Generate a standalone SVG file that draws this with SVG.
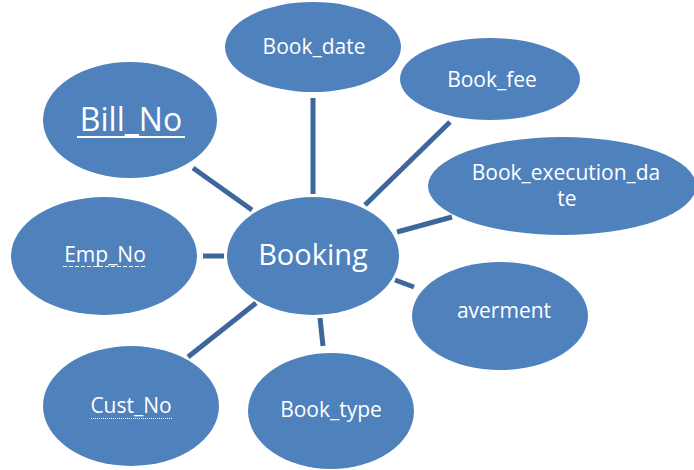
<svg xmlns="http://www.w3.org/2000/svg" width="694" height="470" viewBox="0 0 694 470">
<style>
.n{fill:#4f81bd}
.t{fill:#ffffff;font-family:"Open Sans","Liberation Sans",sans-serif;font-size:21px;text-anchor:middle}
.c{stroke:#3d679b;stroke-width:5;fill:none}
.u{stroke:#ffffff;fill:none}
</style>
<rect width="694" height="470" fill="#ffffff"/>
<g id="connectors">
<line class="c" x1="193" y1="168" x2="252" y2="210"/>
<line class="c" x1="313" y1="98" x2="313" y2="194"/>
<line class="c" x1="450" y1="122" x2="365" y2="205"/>
<line class="c" x1="397" y1="232" x2="452" y2="217"/>
<line class="c" x1="395" y1="280" x2="414" y2="287"/>
<line class="c" x1="320" y1="318" x2="323" y2="346"/>
<line class="c" x1="256" y1="303" x2="188" y2="357"/>
<line class="c" x1="203" y1="256" x2="224" y2="256"/>
</g>
<g id="booking">
<ellipse class="n" cx="313" cy="256" rx="86" ry="59"/>
<text class="t" x="313" y="265" style="font-size:29px">Booking</text>
</g>
<g id="book_date">
<ellipse class="n" cx="313" cy="47" rx="88" ry="45"/>
<text class="t" x="314" y="54">Book_date</text>
</g>
<g id="book_fee">
<ellipse class="n" cx="490" cy="79" rx="90" ry="41"/>
<text class="t" x="492" y="87">Book_fee</text>
</g>
<g id="book_execution_date">
<ellipse class="n" cx="562" cy="186" rx="134" ry="49"/>
<text class="t" x="566" y="180">Book_execution_da</text>
<text class="t" x="567" y="206">te</text>
</g>
<g id="averment">
<ellipse class="n" cx="500" cy="316" rx="88" ry="54"/>
<text class="t" x="504" y="318">averment</text>
</g>
<g id="book_type">
<ellipse class="n" cx="331" cy="411" rx="83" ry="58"/>
<text class="t" x="331" y="417">Book_type</text>
</g>
<g id="cust_no">
<ellipse class="n" cx="131" cy="406" rx="88" ry="60"/>
<text class="t" x="131" y="413">Cust_No</text>
<line class="u" x1="91" y1="418.5" x2="172" y2="418.5" stroke-width="1" stroke-dasharray="1,1"/>
</g>
<g id="emp_no">
<ellipse class="n" cx="104" cy="256" rx="93" ry="59"/>
<text class="t" x="105" y="262">Emp_No</text>
<line class="u" x1="63" y1="266.5" x2="147" y2="266.5" stroke-width="1" stroke-dasharray="4,2"/>
</g>
<g id="bill_no">
<ellipse class="n" cx="130" cy="120" rx="87" ry="58"/>
<text class="t" x="131" y="131" style="font-size:32px">Bill_No</text>
<line class="u" x1="77" y1="137" x2="185" y2="137" stroke-width="2"/>
</g>
</svg>
